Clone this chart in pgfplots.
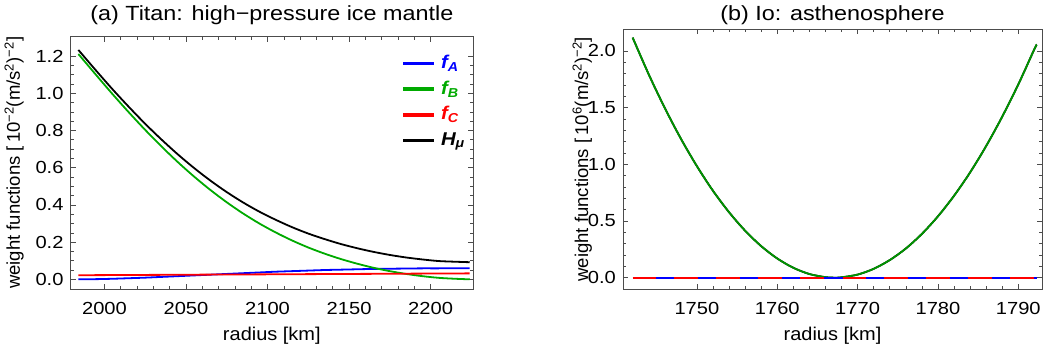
\documentclass[border=0pt]{standalone}
\usepackage{pgfplots}
\pgfplotsset{compat=1.18}
\usepackage{pgfplotstable}
\usepackage{graphicx}
\usepackage{fontspec}
\setmainfont{Liberation Sans}
\definecolor{mblue}{rgb}{0,0,1}
\definecolor{mred}{rgb}{1,0,0}
\definecolor{mgreen}{rgb}{0,0.667,0}
\definecolor{mgreenD}{rgb}{0,0.58,0}
\definecolor{frm}{gray}{0.3}

\pgfplotstableread{
r fA fB fC H
1984 0.000 1.211 0.0220 1.233
1995 0.001 1.097 0.0225 1.1205
2005 0.003 0.995 0.0229 1.0209
2015 0.006 0.897 0.0233 0.9263
2025 0.009 0.803 0.0237 0.8357
2035 0.013 0.714 0.0241 0.7511
2045 0.017 0.630 0.0245 0.6715
2055 0.021 0.552 0.0250 0.598
2065 0.025 0.480 0.0254 0.5304
2075 0.029 0.414 0.0258 0.4688
2085 0.033 0.354 0.0262 0.4132
2095 0.037 0.300 0.0266 0.3636
2105 0.041 0.252 0.0270 0.320
2115 0.044 0.209 0.0275 0.2805
2125 0.047 0.171 0.0279 0.2459
2135 0.050 0.138 0.0283 0.2163
2145 0.052 0.109 0.0287 0.1897
2155 0.054 0.084 0.0291 0.1671
2165 0.056 0.062 0.0295 0.1475
2175 0.057 0.044 0.0300 0.131
2185 0.058 0.029 0.0304 0.1174
2195 0.059 0.017 0.0308 0.1068
2205 0.059 0.008 0.0312 0.0982
2215 0.060 0.003 0.0316 0.0946
2224 0.060 0.000 0.0320 0.092
}\titan

\pgfplotstableread{
r fA fB fC H
1742 0 2.117 0 2.117
1744 0 1.793 0 1.793
1746 0 1.496 0 1.496
1748 0 1.226 0 1.226
1750 0 0.983 0 0.983
1752 0 0.766 0 0.766
1754 0 0.577 0 0.577
1756 0 0.414 0 0.414
1758 0 0.278 0 0.278
1760 0 0.169 0 0.169
1762 0 0.087 0 0.087
1764 0 0.032 0 0.032
1766 0 0.004 0 0.004
1767.1 0 0.000 0 0.000
1768 0 0.003 0 0.003
1770 0 0.027 0 0.027
1772 0 0.078 0 0.078
1774 0 0.155 0 0.155
1776 0 0.257 0 0.257
1778 0 0.386 0 0.386
1780 0 0.541 0 0.541
1782 0 0.722 0 0.722
1784 0 0.928 0 0.928
1786 0 1.161 0 1.161
1788 0 1.420 0 1.420
1790 0 1.704 0 1.704
1792 0 2.015 0 2.015
1792.3 0 2.055 0 2.055
}\io

\pgfplotsset{
  mstyle/.style={
    scale only axis,
    axis line style={frm, line width=0.8pt},
    tick style={frm, line width=0.6pt},
    tick align=inside, tick pos=both,
    major tick length=5pt, minor tick length=3pt,
    xticklabel style={font=\fontsize{17.5}{20}\selectfont, anchor=base, yshift=-25pt, inner sep=0pt},
    yticklabel style={font=\fontsize{17.5}{20}\selectfont, anchor=east, xshift=-7pt, inner sep=0pt},
    xticklabel={\scalebox{1.15}[1]{\pgfmathprintnumber[fixed,precision=0,1000 sep={},assume math mode=true]{\tick}}},
    yticklabel={\scalebox{1.15}[1]{\pgfmathprintnumber[fixed,fixed zerofill,precision=1,assume math mode=true]{\tick}}},
    scaled ticks=false,
    label style={font=\fontsize{18.5}{21}\selectfont},
    xlabel style={at={(axis description cs:0.5,0)}, anchor=base, yshift=-51pt},
  },
}

\begin{document}
\begin{tikzpicture}
\useasboundingbox (0pt,0pt) rectangle (1047pt,-351pt);
\begin{axis}[mstyle, name=axA,
  at={(70.7pt,-36.7pt)}, anchor=north west,
  width=402.3pt, height=252.3pt,
  xmin=1979.3, xmax=2226, ymin=-0.052, ymax=1.304,
  xtick={2000,2050,2100,2150,2200}, minor x tick num=4,
  ytick={0,0.2,0.4,0.6,0.8,1.0,1.2}, minor y tick num=3,
  xlabel={\scalebox{1.08}[1]{radius [km]}},
  ylabel={weight functions [\,10\textsuperscript{−2}(m/s\textsuperscript{2})\textsuperscript{−2}]},
  ylabel style={at={(axis description cs:0,0.5)}, anchor=base, yshift=50.7pt},
  legend style={draw=none, fill=none, at={(rel axis cs:0.826,0.93)}, anchor=north west,
    inner sep=0pt, row sep=7.6pt, column sep=0pt,
    nodes={text height=14pt, text depth=4pt, inner sep=0pt},
    font=\fontsize{18.5}{21}\selectfont\bfseries\itshape},
  legend cell align=left,
]
\addplot[draw=mblue, line width=1.8pt, smooth,
  legend image code/.code={\fill[mblue] (0pt,-0.9pt) rectangle (29pt,0.9pt);}] table[x=r, y=fA] {\titan};
\addlegendentry{\hspace{7pt}\textcolor{mblue}{\scalebox{1.1}[1]{f\textsubscript{A}}}}
\addplot[draw=mgreen, line width=1.8pt, smooth,
  legend image code/.code={\fill[mgreen] (0pt,-0.9pt) rectangle (29pt,0.9pt);}] table[x=r, y=fB] {\titan};
\addlegendentry{\hspace{7pt}\textcolor{mgreen}{\scalebox{1.1}[1]{f\textsubscript{B}}}}
\addplot[draw=mred, line width=1.8pt, smooth,
  legend image code/.code={\fill[mred] (0pt,-0.9pt) rectangle (29pt,0.9pt);}] table[x=r, y=fC] {\titan};
\addlegendentry{\hspace{7pt}\textcolor{mred}{\scalebox{1.1}[1]{f\textsubscript{C}}}}
\addplot[draw=black, line width=1.8pt, smooth,
  legend image code/.code={\fill[black] (0pt,-0.9pt) rectangle (29pt,0.9pt);}] table[x=r, y=H] {\titan};
\addlegendentry{\hspace{7pt}\textcolor{black}{\scalebox{1.1}[1]{H\textsubscript{μ}}}}
\end{axis}
\node[anchor=base, font=\fontsize{20.5}{23}\selectfont, inner sep=0pt] at ([yshift=16pt]axA.north) {\scalebox{1.14}[1]{(a) Titan: high−pressure ice mantle}};

\begin{axis}[mstyle, name=axB,
  at={(623pt,-29.3pt)}, anchor=north west,
  width=419pt, height=259.7pt,
  xmin=1740.8, xmax=1792.95, ymin=-0.10, ymax=2.19,
  xtick={1750,1760,1770,1780,1790}, minor x tick num=4,
  ytick={0,0.5,1.0,1.5,2.0}, minor y tick num=4,
  xlabel={\scalebox{1.08}[1]{radius [km]}},
  ylabel={weight functions [\,10\textsuperscript{6}(m/s\textsuperscript{2})\textsuperscript{−2}]},
  ylabel style={at={(axis description cs:0,0.5)}, anchor=base, yshift=35pt},
]
\addplot[draw=black, line width=1.8pt, smooth] table[x=r, y=H] {\io};
\addplot[draw=mgreenD, line width=1.8pt, smooth] table[x=r, y=fB] {\io};
\addplot[draw=mred, line width=1.8pt] table[x=r, y=fC] {\io};
\addplot[draw=mblue, line width=1.8pt, dash pattern=on 18pt off 24pt, dash phase=-23pt] table[x=r, y=fA] {\io};
\end{axis}
\node[anchor=base, font=\fontsize{20.5}{23}\selectfont, inner sep=0pt] at ([yshift=8.6pt]axB.north) {\scalebox{1.14}[1]{(b) Io: asthenosphere}};
\end{tikzpicture}
\end{document}
